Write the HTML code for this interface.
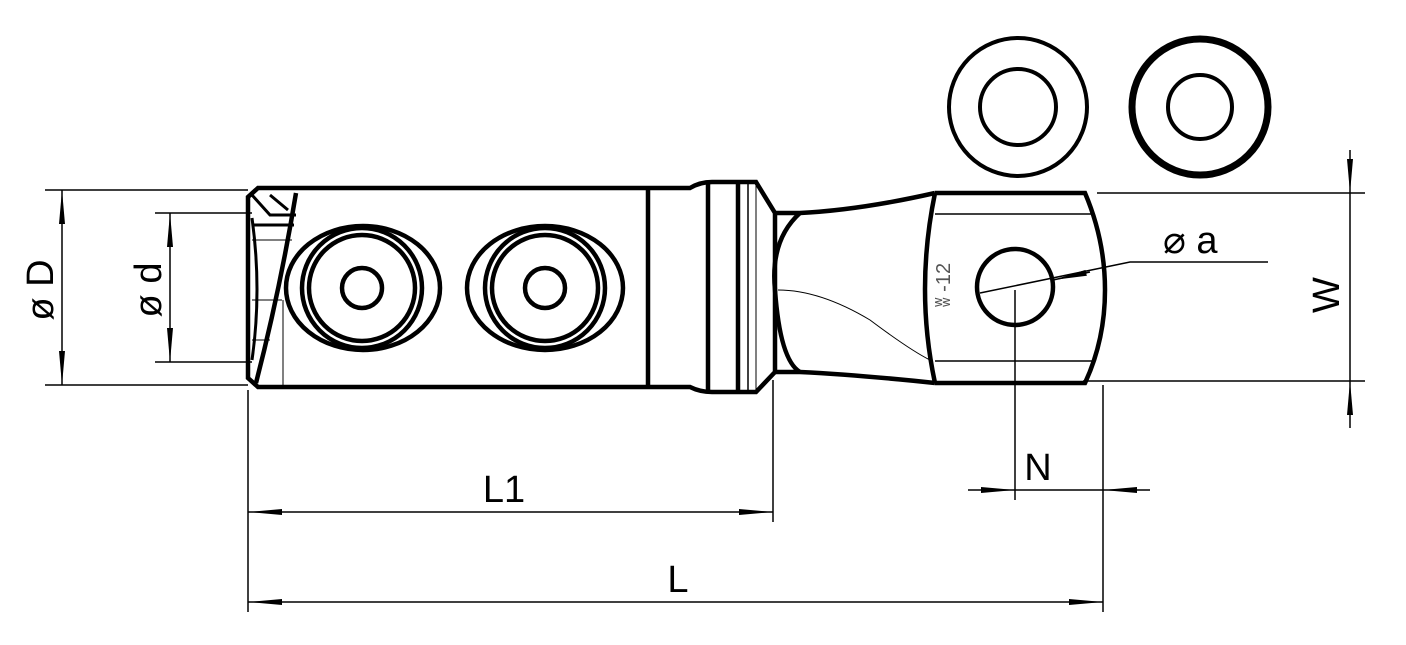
<!DOCTYPE html>
<html><head><style>body{margin:0;background:#fff}svg{display:block}</style></head><body>
<svg width="1406" height="645" viewBox="0 0 1406 645" xmlns="http://www.w3.org/2000/svg" font-family="Liberation Sans, sans-serif">
<defs>
<marker id="a" viewBox="0 0 10 10" refX="10" refY="5" markerWidth="34" markerHeight="10" markerUnits="userSpaceOnUse" orient="auto-start-reverse" preserveAspectRatio="none"><path d="M0,2 L10,5 L0,8z" fill="#000"/></marker>
</defs>
<g fill="none" stroke="#000">
<circle cx="1018" cy="107" r="69" stroke-width="4"/>
<circle cx="1018" cy="107" r="38" stroke-width="4"/>
<circle cx="1200" cy="107" r="68" stroke-width="7"/>
<circle cx="1200" cy="107" r="32" stroke-width="4"/>
<path d="M258,188 L690,188 Q700,182 712,182 L756,182 L775,213 L775,372 L756,392 L712,392 Q700,392 690,387 L258,387 L248,378 L248,197 Z" stroke-width="4.5"/>
<line x1="648" y1="188" x2="648" y2="387" stroke-width="4.5"/>
<line x1="708" y1="182" x2="708" y2="392" stroke-width="4.5"/>
<line x1="738" y1="182" x2="738" y2="392" stroke-width="4.5"/>
<line x1="748" y1="182" x2="748" y2="392" stroke-width="1.5"/>
<line x1="756" y1="182" x2="756" y2="392" stroke-width="1"/>
<path d="M296,193 Q280,290 256,383" stroke-width="4.5"/>
<path d="M252,195 L270,215 L296,215 M270,195 L288,210 M252,225 L294,225 M252,218 Q262,290 252,360" stroke-width="3"/>
<path d="M252,240 L292,240 M252,300 L282,300 M252,340 L270,340" stroke-width="1"/>
<line x1="283" y1="300" x2="283" y2="387" stroke-width="1"/>
<g stroke-width="4.5">
<ellipse cx="363" cy="288" rx="77" ry="62"/><circle cx="362" cy="288" r="60"/><circle cx="362" cy="288" r="53"/><circle cx="362" cy="288" r="20"/>
<ellipse cx="545" cy="288" rx="78" ry="62"/><circle cx="545" cy="288" r="60"/><circle cx="545" cy="288" r="53"/><circle cx="545" cy="288" r="20"/>
</g>
<path d="M775,213 L800,213 Q860,210 935,193 M775,372 L800,372 Q860,375 935,383" stroke-width="4.5"/>
<path d="M800,213 Q770,240 775,290 Q780,360 800,372" stroke-width="4.5"/>
<path d="M778,290 Q820,290 870,320 Q910,350 930,360" stroke-width="1"/>
<path d="M935,193 L1085,193 Q1105,240 1105,290 Q1105,340 1085,383 L935,383" stroke-width="4.5"/>
<path d="M935,193 Q915,290 935,383" stroke-width="4.5"/>
<line x1="935" y1="214" x2="1092" y2="214" stroke-width="1.5"/>
<line x1="935" y1="361" x2="1092" y2="361" stroke-width="1.5"/>
<circle cx="1015" cy="287" r="38" stroke-width="4.5"/>
<g stroke-width="1.5">
<line x1="45" y1="190" x2="248" y2="190"/><line x1="45" y1="385" x2="248" y2="385"/>
<line x1="62" y1="190" x2="62" y2="385" marker-start="url(#a)" marker-end="url(#a)"/>
<line x1="155" y1="213" x2="252" y2="213"/><line x1="155" y1="362" x2="252" y2="362"/>
<line x1="170" y1="213" x2="170" y2="362" marker-start="url(#a)" marker-end="url(#a)"/>
<line x1="248" y1="390" x2="248" y2="612"/><line x1="773" y1="380" x2="773" y2="522"/><line x1="1103" y1="385" x2="1103" y2="612"/>
<line x1="248" y1="512" x2="773" y2="512" marker-start="url(#a)" marker-end="url(#a)"/>
<line x1="248" y1="602" x2="1103" y2="602" marker-start="url(#a)" marker-end="url(#a)"/>
<line x1="1097" y1="193" x2="1365" y2="193"/><line x1="1083" y1="381" x2="1365" y2="381"/>
<line x1="1350" y1="150" x2="1350" y2="193" marker-end="url(#a)"/>
<line x1="1350" y1="428" x2="1350" y2="381" marker-end="url(#a)"/>
<line x1="1350" y1="193" x2="1350" y2="381"/>
<line x1="1015" y1="290" x2="1015" y2="500"/>
<line x1="968" y1="490" x2="1015" y2="490" marker-end="url(#a)"/>
<line x1="1150" y1="490" x2="1103" y2="490" marker-end="url(#a)"/>
<line x1="1015" y1="490" x2="1103" y2="490"/>
<polyline points="980,293 1130,262 1268,262"/>
<line x1="1090" y1="272" x2="1053" y2="280" marker-end="url(#a)"/>
</g>
</g>
<g font-size="38" fill="#000">
<text x="504" y="502" text-anchor="middle">L1</text>
<text x="678" y="592" text-anchor="middle">L</text>
<text x="1038" y="480" text-anchor="middle">N</text>
<text transform="translate(53,290) rotate(-90)" text-anchor="middle">ø D</text>
<text transform="translate(161,290) rotate(-90)" text-anchor="middle">ø d</text>
<text transform="translate(1339,295) rotate(-90)" text-anchor="middle">W</text>
<text x="1163" y="253">⌀ a</text>
</g>
<text transform="translate(950,285) rotate(-90)" font-size="20" fill="#555" text-anchor="middle">ʬ -12</text>
</svg>
</body></html>
